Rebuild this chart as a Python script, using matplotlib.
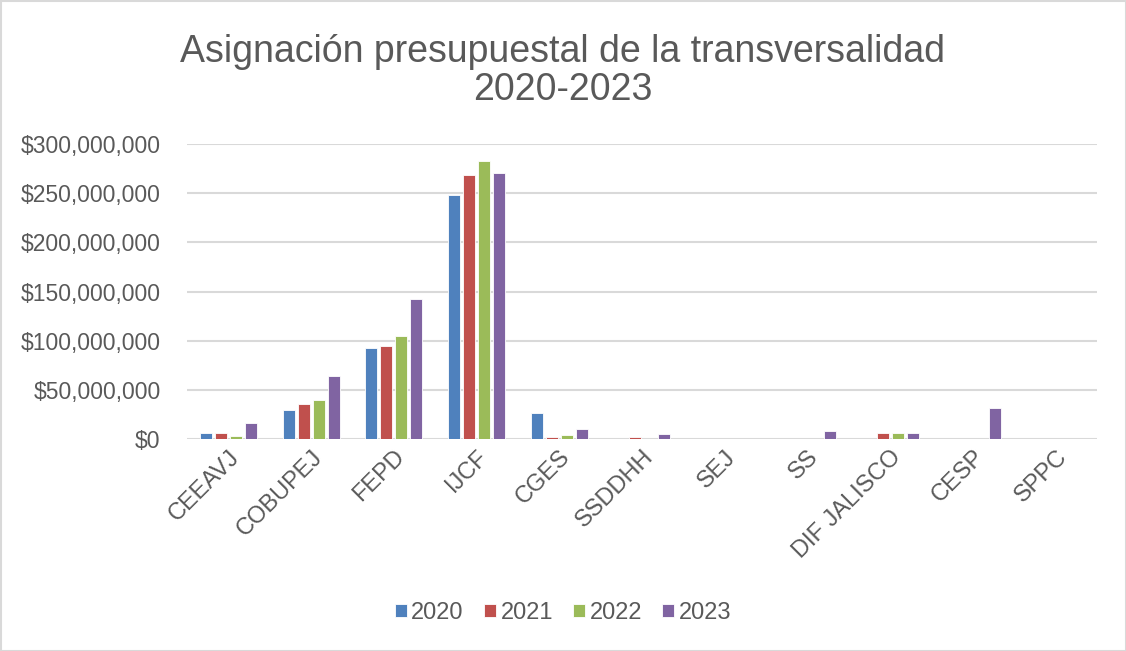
import matplotlib
matplotlib.use("Agg")
import matplotlib.pyplot as plt
import numpy as np
from matplotlib.ticker import FuncFormatter
from matplotlib.patches import Rectangle

plt.rcParams['font.family'] = ['Liberation Sans', 'DejaVu Sans']

categories = ["CEEAVJ", "COBUPEJ", "FEPD", "IJCF", "CGES", "SSDDHH", "SEJ",
              "SS", "DIF JALISCO", "CESP", "SPPC"]
years = ["2020", "2021", "2022", "2023"]
v2020 = [6.1e6, 29.4e6, 92.9e6, 247.8e6, 26.7e6, 0, 0, 0, 0, 0, 0]
v2021 = [6.1e6, 35.8e6, 94.3e6, 268.8e6, 2.0e6, 2.0e6, 0, 0, 6.4e6, 0, 0]
v2022 = [3.4e6, 39.5e6, 104.8e6, 283.0e6, 4.4e6, 0, 0, 0, 6.1e6, 0, 0]
v2023 = [16.2e6, 64.0e6, 142.3e6, 270.0e6, 10.1e6, 4.7e6, 0, 8.5e6, 6.1e6, 31.8e6, 0]
series = [v2020, v2021, v2022, v2023]
colors = ["#4F81BD", "#C0504D", "#9BBB59", "#8064A2"]
yticks = [0, 50e6, 100e6, 150e6, 200e6, 250e6, 300e6]
title = "Asignación presupuestal de la transversalidad\n2020-2023"

txt = "#595959"
fig = plt.figure(figsize=(11.26, 6.51), dpi=100)
ax = fig.add_axes([187/1126, 1-439/651, (1097-187)/1126, (439-144)/651])

x = np.arange(len(categories))
step = 0.181
width = 0.145
for i, (vals, c, yr) in enumerate(zip(series, colors, years)):
    ax.bar(x + (i - 1.5) * step, vals, width=width, color=c, label=yr,
           edgecolor="white", linewidth=0.6, zorder=3)

ax.set_xlim(-0.5, len(categories) - 0.5)
ax.set_ylim(0, 300e6)
ax.set_yticks(yticks)
ax.yaxis.set_major_formatter(FuncFormatter(lambda v, p: "${:,.0f}".format(v)))
ax.grid(axis='y', color="#d9d9d9", linewidth=1.5, zorder=0)
for s in ax.spines.values():
    s.set_visible(False)
ax.tick_params(axis='y', length=0, pad=19, labelsize=16.5, labelcolor=txt)
ax.tick_params(axis='x', length=0, pad=5, labelsize=17, labelcolor=txt)
ax.set_xticks(x)
ax.set_xticklabels(categories, rotation=45, ha='right', rotation_mode='anchor')

fig.text(0.5, 1-71/651, title, ha='center', va='center', fontsize=27,
         color=txt, linespacing=1.1)

leg = fig.legend(loc='center', bbox_to_anchor=(0.5, 1-613/651), ncol=4,
                 frameon=False, fontsize=17, handlelength=0.5, handleheight=0.5,
                 handletextpad=0.2, columnspacing=0.85, labelcolor=txt)

fig.patches.append(Rectangle((0.5/1126, 0.5/651), 1-1/1126, 1-1/651,
                             transform=fig.transFigure, fill=False,
                             edgecolor="#d9d9d9", linewidth=1.5))

fig.savefig("out.png", dpi=100, facecolor="white")
